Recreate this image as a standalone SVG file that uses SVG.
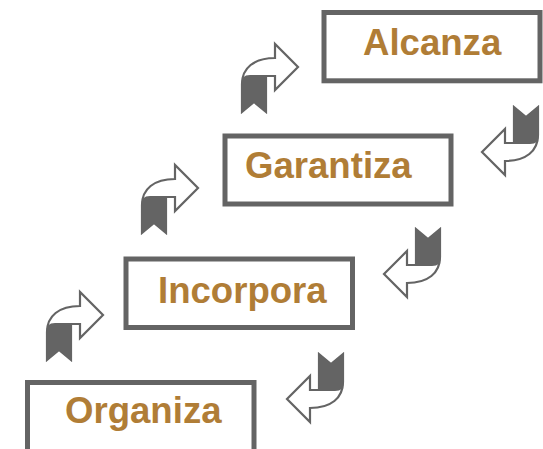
<svg xmlns="http://www.w3.org/2000/svg" width="543" height="449" viewBox="0 0 543 449">
  <defs>
    <style>
      .box { fill: #ffffff; stroke: #646464; stroke-width: 5; }
      .lbl { font-family: "Liberation Sans", Arial, sans-serif; font-weight: bold; font-size: 36.6px; fill: #B07D36; }
      .outline { fill: #ffffff; stroke: #646464; stroke-width: 2.2; stroke-linejoin: miter; }
      .ribbon { fill: #646464; }
    </style>
    <g id="bent">
      <path class="outline" d="M 0,68 L 0,40 C 0,24 12,14 33,14 L 33,0 L 56,23 L 33,46 L 33,32 L 24,32 L 24,68 L 12,58 Z"/>
      <path class="ribbon" d="M -1,68.5 L -1,40 Q -1,31 8,31 L 25,31 L 25,68.5 L 12,58.5 Z"/>
    </g>
  </defs>
  <rect width="543" height="449" fill="#ffffff"/>

  <g id="connectors">
    <use href="#bent" transform="translate(47,292)"/>
    <use href="#bent" transform="translate(142,165)"/>
    <use href="#bent" transform="translate(242,44)"/>
    <use href="#bent" transform="translate(343,422) rotate(180)"/>
    <use href="#bent" transform="translate(440,297) rotate(180)"/>
    <use href="#bent" transform="translate(538,175) rotate(180)"/>
  </g>

  <g id="organiza">
    <rect class="box" x="27.5" y="382.5" width="226.5" height="80"/>
    <text class="lbl" x="65" y="423.3">Organiza</text>
  </g>
  <g id="incorpora">
    <rect class="box" x="126" y="259" width="226.5" height="68.5"/>
    <text class="lbl" x="158" y="303.3">Incorpora</text>
  </g>
  <g id="garantiza">
    <rect class="box" x="225" y="136" width="226" height="68"/>
    <text class="lbl" x="245" y="178.3">Garantiza</text>
  </g>
  <g id="alcanza">
    <rect class="box" x="324" y="12.5" width="216" height="68.3"/>
    <text class="lbl" x="363" y="55">Alcanza</text>
  </g>
</svg>
